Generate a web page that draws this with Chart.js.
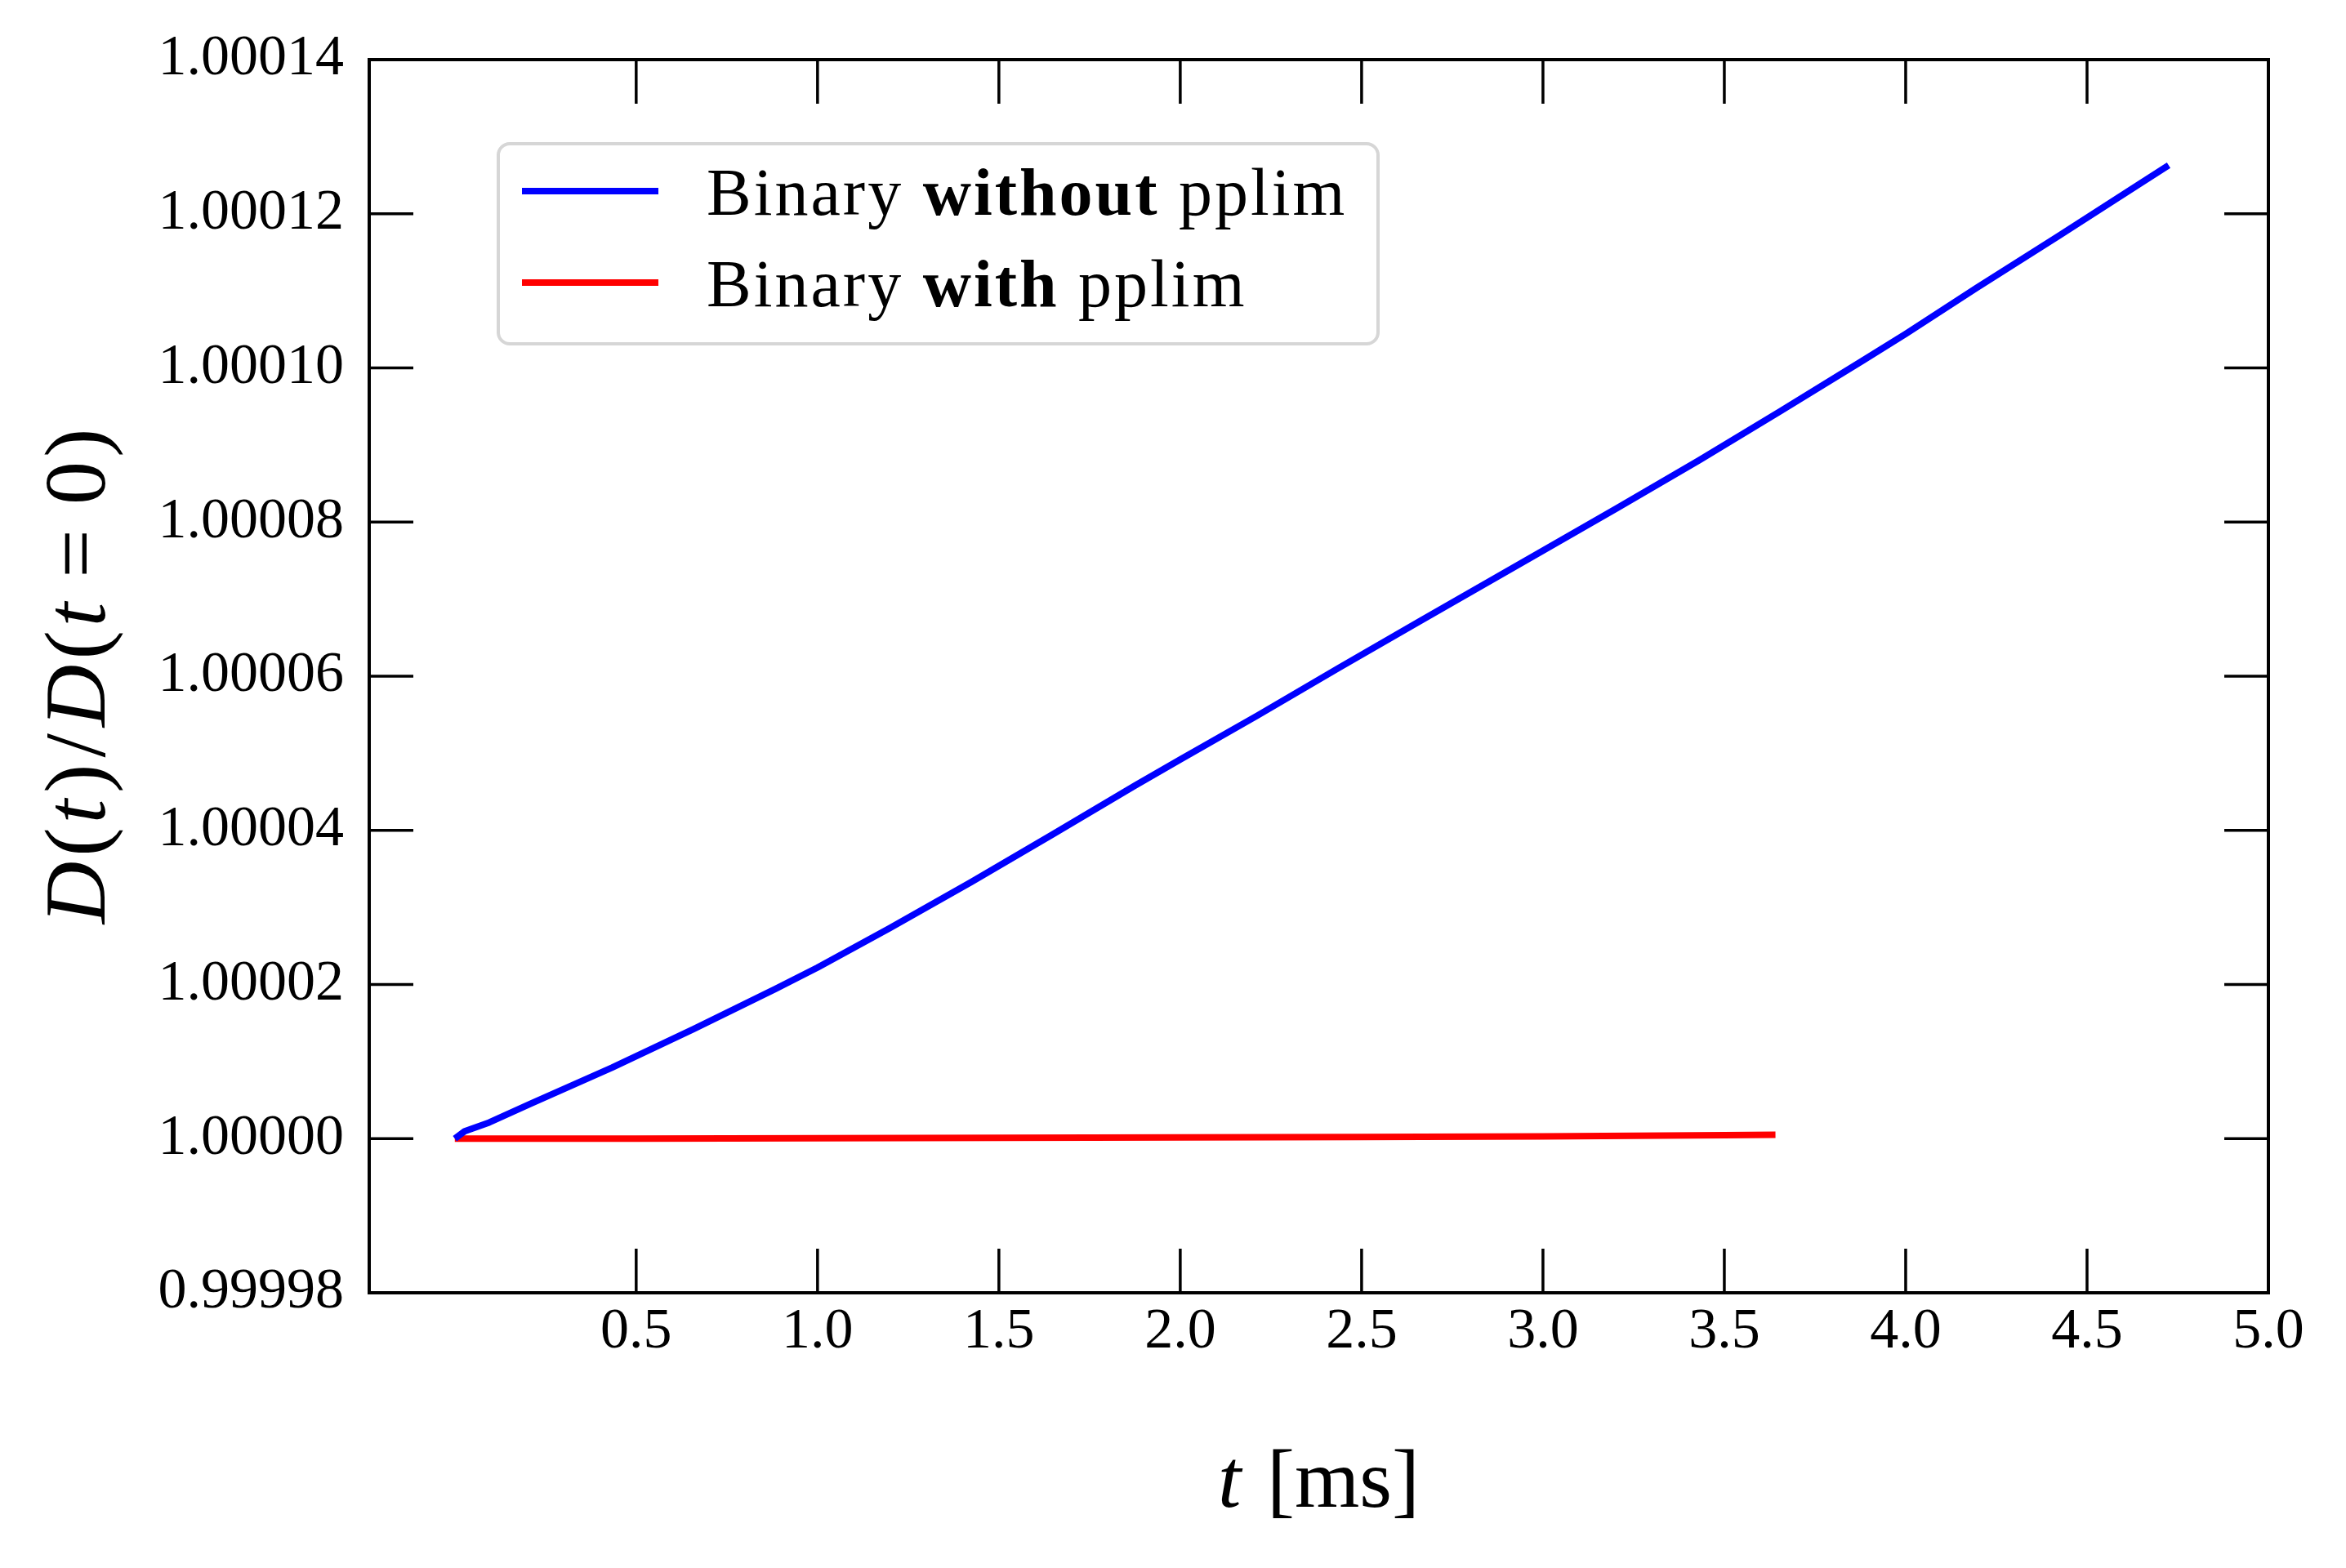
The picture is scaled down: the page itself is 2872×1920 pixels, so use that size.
<!DOCTYPE html>
<html><head><meta charset="utf-8">
<script src="https://cdn.jsdelivr.net/npm/chart.js@4/dist/chart.umd.min.js"></script>
<style>html,body{margin:0;padding:0;background:#fff;} canvas{display:block;}</style>
</head><body>
<canvas id="c" width="2872" height="1920"></canvas>
<script>
// ---- data ----
const blueT = [0, 0.027, 0.095, 0.207, 0.433, 0.658, 0.883, 1.0, 1.199, 1.424, 1.649, 1.875, 2.0, 2.213, 2.438, 2.663, 2.889, 3.0, 3.204, 3.43, 3.655, 3.88, 4.0, 4.196, 4.421, 4.646, 4.725];
const blueD = [1.0, 1.00000095, 1.0000021, 1.0000045, 1.0000092, 1.0000142, 1.0000194, 1.0000222, 1.0000273, 1.0000333, 1.0000395, 1.0000458, 1.0000492, 1.0000549, 1.0000611, 1.0000672, 1.0000733, 1.0000763, 1.0000818, 1.000088, 1.0000944, 1.0001009, 1.0001044, 1.0001104, 1.0001171, 1.0001239, 1.0001263];
const redT = [0, 0.5, 1.0, 1.5, 2.0, 2.5, 3.0, 3.5, 3.641];
const redD = [1.0, 1.0, 1.00000005, 1.0000001, 1.00000015, 1.00000022, 1.0000003, 1.00000045, 1.0000005];
const xTickValues = [0.5, 1.0, 1.5, 2.0, 2.5, 3.0, 3.5, 4.0, 4.5, 5.0];
const xTickLabels = ['0.5', '1.0', '1.5', '2.0', '2.5', '3.0', '3.5', '4.0', '4.5', '5.0'];
const yTickValues = [0.99998, 1.0, 1.00002, 1.00004, 1.00006, 1.00008, 1.0001, 1.00012, 1.00014];
const yTickLabels = ['0.99998', '1.00000', '1.00002', '1.00004', '1.00006', '1.00008', '1.00010', '1.00012', '1.00014'];
const seriesColors = ['#0000ff', '#ff0000'];
const legendPieces = [
  [['Binary ', 'normal'], ['without', 'bold'], [' pplim', 'normal']],
  [['Binary ', 'normal'], ['with', 'bold'], [' pplim', 'normal']]
];

const SERIF = '"Liberation Serif", "DejaVu Serif", serif';

function drawPieces(ctx, pieces, x, y, align) {
  let total = 0;
  const widths = pieces.map(p => { ctx.font = p.font; const w = ctx.measureText(p.text).width + (p.gap || 0); total += w; return w; });
  let cx = align === 'center' ? x - total / 2 : x;
  pieces.forEach((p, i) => { ctx.font = p.font; ctx.fillText(p.text, cx, y); cx += widths[i]; });
}

const framePlugin = {
  id: 'frame',
  afterDraw(chart) {
    const ctx = chart.ctx;
    const a = chart.chartArea;
    const xs = chart.scales.x, ys = chart.scales.y;
    ctx.save();
    ctx.strokeStyle = '#000';
    ctx.lineWidth = 3.5;
    ctx.lineCap = 'butt';
    const TL = 54;
    ctx.beginPath();
    xTickValues.forEach(v => {
      const px = xs.getPixelForValue(v);
      ctx.moveTo(px, a.bottom); ctx.lineTo(px, a.bottom - TL);
      ctx.moveTo(px, a.top); ctx.lineTo(px, a.top + TL);
    });
    yTickValues.forEach(v => {
      const py = ys.getPixelForValue(v);
      ctx.moveTo(a.left, py); ctx.lineTo(a.left + TL, py);
      ctx.moveTo(a.right, py); ctx.lineTo(a.right - TL, py);
    });
    ctx.stroke();
    ctx.lineWidth = 4;
    ctx.strokeRect(a.left, a.top, a.right - a.left, a.bottom - a.top);

    // legend
    const lx = a.left + 158, ly = a.top + 103, lw = 1077, lh = 245;
    ctx.beginPath();
    ctx.roundRect(lx, ly, lw, lh, 14);
    ctx.fillStyle = 'rgba(255,255,255,0.8)';
    ctx.fill();
    ctx.strokeStyle = '#d6d6d6';
    ctx.lineWidth = 4;
    ctx.stroke();
    const rows = [ly + 58, ly + 170];
    chart.data.datasets.forEach((ds, i) => {
      ctx.strokeStyle = ds.borderColor;
      ctx.lineWidth = 8;
      ctx.beginPath();
      ctx.moveTo(lx + 29, rows[i]); ctx.lineTo(lx + 196, rows[i]);
      ctx.stroke();
      ctx.fillStyle = '#000';
      ctx.textBaseline = 'alphabetic';
      ctx.textAlign = 'left';
      ctx.letterSpacing = '3px';
      drawPieces(ctx, legendPieces[i].map(p => ({ text: p[0], font: p[1] + ' 82px ' + SERIF })), lx + 255, rows[i] + 29, 'left');
      ctx.letterSpacing = '0px';
    });

    // x title
    ctx.fillStyle = '#000';
    ctx.textAlign = 'left';
    ctx.textBaseline = 'alphabetic';
    drawPieces(ctx, [
      { text: 't', font: 'italic 102px ' + SERIF, gap: 6 },
      { text: ' [ms]', font: 'normal 102px ' + SERIF }
    ], (a.left + a.right) / 2, 1845, 'center');

    // y title
    ctx.save();
    ctx.translate(128, (a.top + a.bottom) / 2);
    ctx.rotate(-Math.PI / 2);
    const it = 'italic 106px ' + SERIF, rm = 'normal 106px ' + SERIF;
    drawPieces(ctx, [
      { text: 'D', font: it, gap: 6 }, { text: '(', font: rm, gap: 5 }, { text: 't', font: it, gap: 8 }, { text: ')', font: rm, gap: 8 },
      { text: '/', font: rm, gap: 8 },
      { text: 'D', font: it, gap: 6 }, { text: '(', font: rm, gap: 5 }, { text: 't', font: it, gap: 30 },
      { text: '=', font: rm, gap: 30 }, { text: '0', font: rm, gap: 5 }, { text: ')', font: rm }
    ], 0, 0, 'center');
    ctx.restore();
    ctx.restore();
  }
};

const ctx = document.getElementById('c').getContext('2d');
new Chart(ctx, {
  type: 'scatter',
  data: {
    datasets: [
      { label: 'Binary without pplim', data: blueT.map((t, i) => ({ x: t, y: blueD[i] })), borderColor: seriesColors[0], backgroundColor: seriesColors[0], showLine: true, pointRadius: 0, borderWidth: 8, tension: 0, borderJoinStyle: 'round', borderCapStyle: 'butt' },
      { label: 'Binary with pplim', data: redT.map((t, i) => ({ x: t, y: redD[i] })), borderColor: seriesColors[1], backgroundColor: seriesColors[1], showLine: true, pointRadius: 0, borderWidth: 8, tension: 0, borderJoinStyle: 'round', borderCapStyle: 'butt' }
    ]
  },
  options: {
    responsive: false, animation: false, devicePixelRatio: 1,
    layout: { padding: { top: 72, right: 95, left: 0, bottom: 0 } },
    plugins: { legend: { display: false }, tooltip: { enabled: false } },
    scales: {
      x: {
        type: 'linear', min: -0.236, max: 5.0,
        afterBuildTicks: s => { s.ticks = xTickValues.map(v => ({ value: v })); },
        afterFit: s => { s.height = 337; },
        grid: { display: false, drawTicks: false }, border: { display: false },
        ticks: { font: { family: SERIF, size: 70 }, color: '#000', padding: 7, maxRotation: 0, autoSkip: false, callback: (v, i) => xTickLabels[i] }
      },
      y: {
        type: 'linear', min: 0.99998, max: 1.00014,
        afterBuildTicks: s => { s.ticks = yTickValues.map(v => ({ value: v })); },
        afterFit: s => { s.width = 452; },
        grid: { display: false, drawTicks: false }, border: { display: false },
        ticks: { font: { family: SERIF, size: 70 }, color: '#000', padding: 31, autoSkip: false, callback: (v, i) => yTickLabels[i] }
      }
    }
  },
  plugins: [framePlugin]
});
</script>
</body></html>
